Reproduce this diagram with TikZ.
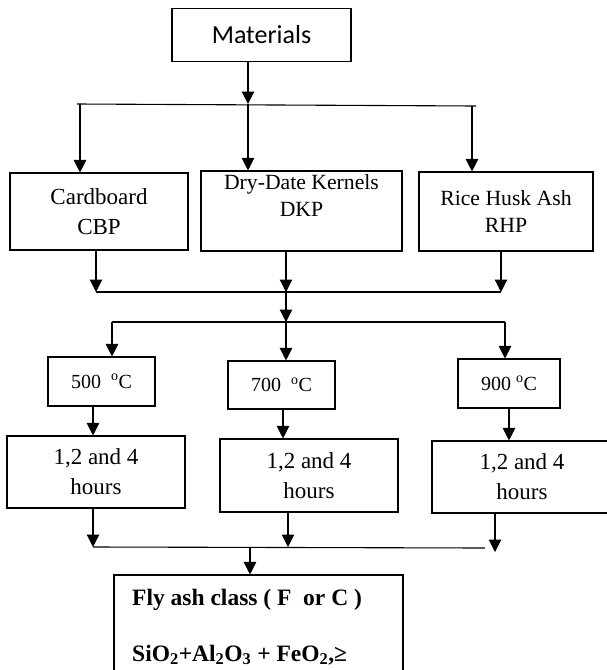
\documentclass[tikz,border=0pt]{standalone}
\usepackage{fontspec}
\setmainfont{Liberation Serif}
\newfontfamily\calibrifont{Carlito}
\usetikzlibrary{arrows.meta}
\begin{document}
\begin{tikzpicture}[x=1pt,y=-1pt,
  box/.style={draw, line width=1.1pt, inner sep=0pt, align=center},
  ln/.style={line width=1.1pt},
  arr/.style={line width=1.1pt, -{Triangle[width=12.5pt,length=12.5pt]}},
  tbig/.style={font=\fontsize{23}{30}\selectfont},
  tmid/.style={font=\fontsize{21.7}{27}\selectfont},
  ttemp/.style={font=\fontsize{20}{24}\selectfont},
  tfly/.style={font=\fontsize{23.5}{26}\selectfont\bfseries, anchor=base west, inner sep=0pt}]
\clip (0,0) rectangle (607,670);
\fill[white] (0,0) rectangle (607,670);
% boxes
\node[box, minimum width=179pt, minimum height=53pt, font=\calibrifont\fontsize{26}{30}\selectfont] (mat) at (261.5,35) {Materials};
\node[box, tbig, minimum width=178pt, minimum height=77pt] (card) at (99,211.5) {Cardboard\\CBP};
\node[box, tmid, minimum width=201pt, minimum height=80pt] (dkp) at (301.5,211) {Dry-Date Kernels\\DKP\\[4pt]};
\node[box, tmid, minimum width=174pt, minimum height=79pt] (rhp) at (506,211.5) {Rice Husk Ash\\RHP};
\node[box, ttemp, minimum width=107pt, minimum height=49pt] (t500) at (101.5,381.5) {500~~\textsuperscript{o}C};
\node[box, ttemp, minimum width=107pt, minimum height=48pt] (t700) at (281.5,385) {700~~\textsuperscript{o}C};
\node[box, ttemp, minimum width=102pt, minimum height=49pt] (t900) at (509,383.5) {900 \textsuperscript{o}C};
\node[box, tbig, minimum width=178pt, minimum height=72pt] (h1) at (96,472) {1,2 and 4\\hours};
\node[box, tbig, minimum width=178pt, minimum height=73pt] (h2) at (309,475.5) {1,2 and 4\\hours};
\node[box, tbig, minimum width=180pt, minimum height=72pt] (h3) at (522,477) {1,2 and 4\\hours};
\node[box, minimum width=289pt, minimum height=115pt] (fly) at (258.5,632.5) {};
\node[tfly] (fly1) at (132,605) {Fly ash class ( F~~or C )};
\node[tfly] (fly2) at (132,661) {SiO\textsubscript{2}+Al\textsubscript{2}O\textsubscript{3} + FeO\textsubscript{2},≥};
% bus coordinates
\coordinate (b1L) at (77,104);
\coordinate (b1R) at (476,106);
\coordinate (b1a) at (80,104);
\coordinate (b1b) at (248,104);
\coordinate (b1c) at (472,106);
\coordinate (b2a) at (96,292);
\coordinate (b2b) at (286,292);
\coordinate (b2c) at (501,292);
\coordinate (b3a) at (112,322);
\coordinate (b3b) at (286,322);
\coordinate (b3c) at (505,322);
\coordinate (b4a) at (93,547);
\coordinate (b4b) at (288,547);
\coordinate (b4c) at (495,552);
\coordinate (b4R) at (485,548);
\coordinate (b4t) at (250,547);
% top distribution
\draw[arr] (mat.south -| b1b) -- (b1b);
\draw[ln] (b1L) -- (b1R);
\draw[arr] (b1a) -- (b1a |- card.north);
\draw[arr] (b1b) -- (b1b |- dkp.north);
\draw[arr] (b1c) -- (b1c |- rhp.north);
% collect materials
\draw[arr] (card.south -| b2a) -- (b2a);
\draw[arr] (dkp.south -| b2b) -- (b2b);
\draw[arr] (rhp.south -| b2c) -- (b2c);
\draw[ln] (b2a) -- (b2c);
\draw[arr] (b2b) -- (b3b);
% temperatures
\draw[ln] (b3a) -- (b3c);
\draw[arr] (b3a) -- (b3a |- t500.north);
\draw[arr] (b3b) -- (b3b |- t700.north);
\draw[arr] (b3c) -- (b3c |- t900.north);
\draw[arr] ([xshift=-8.5pt]t500.south) -- ([xshift=-8.5pt]t500.south |- h1.north);
\draw[arr] ([xshift=1.5pt]t700.south) -- ([xshift=1.5pt]t700.south |- h2.north);
\draw[arr] (t900.south) -- (t900.south |- h3.north);
% collect to fly ash
\draw[arr] (h1.south -| b4a) -- (b4a);
\draw[arr] (h2.south -| b4b) -- (b4b);
\draw[arr] (h3.south -| b4c) -- (b4c);
\draw[ln] (b4a) -- (b4R);
\draw[arr] (b4t) -- (b4t |- fly.north);
\end{tikzpicture}
\end{document}
